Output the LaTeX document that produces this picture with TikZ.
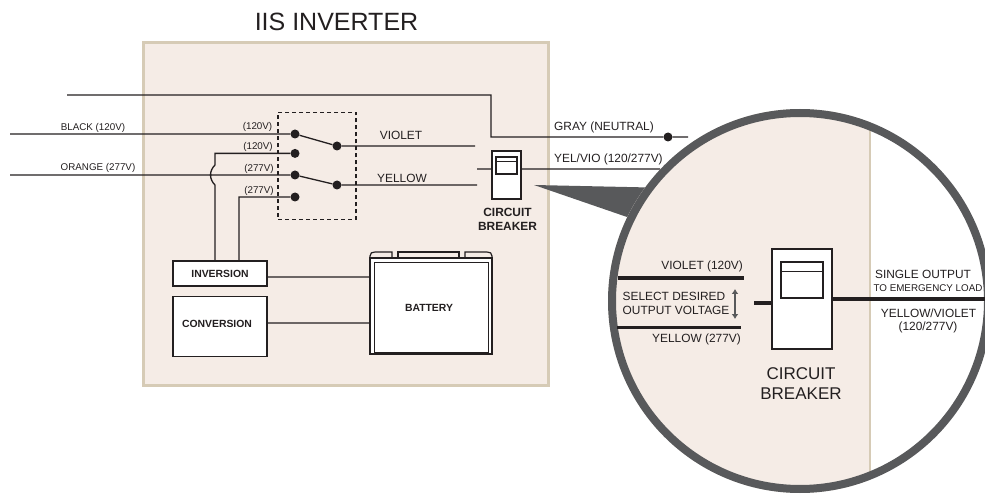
\documentclass[tikz,border=0pt]{standalone}
\usepackage{fontspec}
\setmainfont{Liberation Sans}
\usetikzlibrary{positioning,arrows.meta}

\definecolor{panel}{HTML}{F5ECE6}
\definecolor{panelrule}{HTML}{D6CBB6}
\definecolor{ink}{HTML}{231F20}
\definecolor{ringgray}{HTML}{58595B}

\tikzset{
  wire/.style={draw=ink, line width=1.3pt},
  fatwire/.style={draw=ink, line width=3.4pt},
  terminal/.style={circle, fill=ink, inner sep=0pt, minimum size=9pt},
  unit/.style={draw=ink, fill=white, line width=1.4pt, inner sep=0pt, font=\fontsize{10.4}{12}\selectfont\bfseries, text=ink},
  tiny/.style={inner sep=0pt, text=ink, font=\fontsize{9.8}{11}\selectfont},
  label/.style={inner sep=0pt, text=ink, font=\fontsize{11.9}{14}\selectfont},
  biglabel/.style={inner sep=0pt, text=ink, align=center, font=\fontsize{17}{20}\selectfont}
}

\begin{document}
\begin{tikzpicture}[x=1pt,y=-1pt]
    \useasboundingbox (0,0) rectangle (985,494);

    \node [font=\fontsize{25}{28}\selectfont, text=ink, inner sep=0pt] (title) at (336.5,22) {IIS INVERTER};
    \node [draw=panelrule, fill=panel, line width=3pt, minimum width=405pt, minimum height=342pt, inner sep=0pt] (panel) at (345.5,214) {};

    % switch
    \node [draw=ink, dash pattern=on 4pt off 3pt, line width=1.3pt, minimum width=78pt, minimum height=107pt, inner sep=0pt] (switchbox) at (317,166) {};
    \node [terminal] at (295,134) (t_a) {};
    \node [terminal] [below=10pt of t_a] (t_b) {};
    \node [terminal] at (295,175) (t_c) {};
    \node [terminal] at (295,197) (t_d) {};
    \node [terminal] at (337,146) (s_a) {};
    \node [terminal] at (337,185) (s_b) {};

    \node [terminal] at (668,137) (neutral) {};

    % units
    \node [unit, minimum width=94pt, minimum height=25pt] at (220,273.5) (inversion) {INVERSION};
    \node [unit, minimum width=94pt, minimum height=60pt, below=9pt of inversion] (conversion) {};
    \node [inner sep=0pt, font=\fontsize{10.4}{12}\selectfont\bfseries, text=ink] at (217,324) (conversionlabel) {CONVERSION};
    \node [unit, minimum width=29pt, minimum height=48pt] at (506.5,175) (breaker) {};
    \node [draw=ink, line width=1.2pt, minimum width=21pt, minimum height=17pt, inner sep=0pt] at (506.5,165.5) (window) {};
    \node [font=\fontsize{11.9}{14}\selectfont\bfseries, text=ink, align=center, inner sep=0pt] at (507.5,219) (breakerlabel) {CIRCUIT\\BREAKER};

    % battery
    \draw [fill=panel, draw=ink, line width=1.2pt] (370,258) -- (370,256) .. controls (370,253) and (372,252) .. (375,252) -- (392,252) -- (392,258);
    \draw [fill=panel, draw=ink, line width=1.2pt] (398,258) |- (459,252) -- (459,258);
    \draw [fill=panel, draw=ink, line width=1.2pt] (465,258) -- (465,252) -- (487,252) .. controls (490,252) and (492,253) .. (492,256) -- (492,258);
    \node [draw=ink, fill=white, line width=1.5pt, minimum width=122pt, minimum height=96pt, inner sep=0pt] at (431,306) (battery) {};
    \node [draw=ink, line width=0.8pt, minimum width=114pt, minimum height=90pt, inner sep=0pt] at (431,307) (batteryin) {};
    \node [inner sep=0pt, font=\fontsize{10.4}{12}\selectfont\bfseries, text=ink] at (429,308) (batterylabel) {BATTERY};

    % free ends
    \coordinate (black_in) at (10,134);
    \coordinate (orange_in) at (10,175);
    \coordinate (neutral_in) at (67,95);
    \coordinate (violet_out) at (475,146);
    \coordinate (yellow_out) at (477,185);
    \coordinate (breaker_in) at (477,169);
    \coordinate (breaker_out) at (660,169);
    \coordinate (neutral_out) at (688,137);

    \path [wire]
      (black_in) -- (t_a)
      (orange_in) -- (t_c)
      (t_a) -- (s_a)
      (t_c) -- (s_b)
      (s_a) -- (violet_out)
      (s_b) -- (yellow_out)
      (neutral_in) -| (491,137) -- (neutral)
      (neutral) -- (neutral_out)
      (t_b) -| (215,165) .. controls (209,171) and (209,179) .. (215,185) -- (215,261)
      (t_d) -| (239,261)
      (breaker_in) -- (breaker_in -| breaker.west)
      (breaker_out) -- (breaker_out -| breaker.east)
      (inversion.east |- 0,277) -- (battery.west |- 0,277)
      (conversion.east |- 0,323) -- (battery.west |- 0,323);
    \draw [ink, line width=1.2pt] (window.north west) ++(0,5) -- ++(21,0);

    \node [tiny] at (257.5,127) (v_a) {(120V)};
    \node [tiny] at (258,147) (v_b) {(120V)};
    \node [tiny] at (259,169) (v_c) {(277V)};
    \node [tiny] at (259,191) (v_d) {(277V)};
    \node [tiny] at (93,127.5) (l_black) {BLACK (120V)};
    \node [tiny] at (98,167.5) (l_orange) {ORANGE (277V)};
    \node [label] at (401,135) (l_violet) {VIOLET};
    \node [label] at (402,178.5) (l_yellow) {YELLOW};
    \node [label, anchor=west] at (554,127) (l_gray) {GRAY (NEUTRAL)};
    \node [label, anchor=west] at (554,159) (l_yelvio) {YEL/VIO (120/277V)};

    % magnifier
    \fill [ringgray] (534,185) -- (650,187.5) -- (632,222) -- (627,217) -- cycle;
    \begin{scope}
      \clip (800,301) circle (192pt);
      \fill [panel] (600,100) rectangle (870,500);
      \fill [white] (870,100) rectangle (1000,500);
      \draw [panelrule, line width=2.5pt] (870,100) -- (870,500);
    \end{scope}
    \node [circle, draw=ringgray, line width=8pt, minimum size=376pt, inner sep=0pt] at (800,301) (lens) {};

    \node [unit, minimum width=60pt, minimum height=100pt] at (802,299) (zbreaker) {};
    \node [draw=ink, line width=1.2pt, minimum width=42pt, minimum height=36pt, inner sep=0pt] at (802,280) (zwindow) {};
    \draw [ink, line width=1.2pt] (zwindow.north west) ++(0,10) -- ++(42,0);
    \coordinate (zviolet_a) at (618,278);
    \coordinate (zviolet_b) at (744,278);
    \coordinate (zyellow_a) at (617,327.5);
    \coordinate (zyellow_b) at (741,327.5);
    \coordinate (zin) at (754,303);
    \coordinate (zout) at (985,299);
    \path [fatwire]
      (zviolet_a) -- (zviolet_b)
      (zyellow_a) -- (zyellow_b)
      (zin) -- (zin -| zbreaker.west)
      (zbreaker.east |- zout) -- (zout);
    \coordinate (arrow_a) at (735,289);
    \coordinate (arrow_b) at (735,319);
    \draw [{Latex[length=5pt,width=7pt]}-{Latex[length=5pt,width=7pt]}, ringgray, line width=1.4pt] (arrow_a) -- (arrow_b);

    \node [label, anchor=east] at (743,266) (z_violet) {VIOLET (120V)};
    \node [label, anchor=east] at (741,339.5) (z_yellow) {YELLOW (277V)};
    \node [label, anchor=west] at (622.5,296) (z_select) {SELECT DESIRED};
    \node [label, anchor=west] at (622.5,310) (z_output) {OUTPUT VOLTAGE};
    \node [label] at (923,274.5) (z_single) {SINGLE OUTPUT};
    \node [tiny] at (928,288.5) (z_load) {TO EMERGENCY LOAD};
    \node [label] at (928.5,313) (z_yv) {YELLOW/VIOLET};
    \node [label] at (928,327) (z_vv) {(120/277V)};
    \node [biglabel] at (801,384) (z_breaker) {CIRCUIT\\BREAKER};
\end{tikzpicture}
\end{document}
